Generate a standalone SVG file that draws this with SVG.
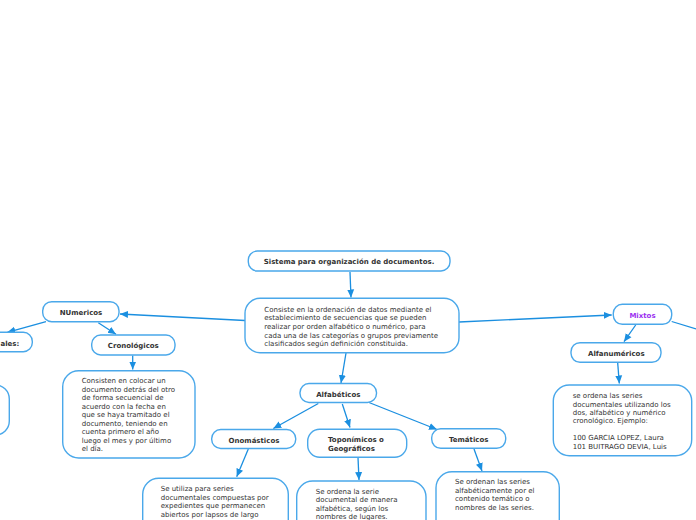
<svg xmlns="http://www.w3.org/2000/svg" width="696" height="520" viewBox="0 0 696 520">
<style>
.n{fill:#fff;stroke:#4aa8ea;stroke-width:1.4}
.t{font-family:"DejaVu Sans",Verdana,sans-serif;font-size:7px;fill:#333}
.b{font-weight:bold;text-anchor:middle}
.c{fill:none;stroke:#1b8fe0;stroke-width:1.3}
</style>
<defs>
<marker id="a" markerUnits="userSpaceOnUse" markerWidth="9" markerHeight="8" refX="8" refY="4" orient="auto">
<path d="M0,0.5 L8,4 L0,7.5 z" fill="#1b8fe0"/>
</marker>
</defs>
<rect width="696" height="520" fill="#fff"/>
<g id="connectors">
<line class="c" x1="350" y1="272" x2="351" y2="297.5" marker-end="url(#a)"/>
<line class="c" x1="245" y1="320.5" x2="120" y2="314" marker-end="url(#a)"/>
<line class="c" x1="46" y1="321.7" x2="7.3" y2="332.3" marker-end="url(#a)"/>
<line class="c" x1="98.3" y1="322.7" x2="116" y2="334.3" marker-end="url(#a)"/>
<line class="c" x1="132.7" y1="355.5" x2="132.7" y2="369.5" marker-end="url(#a)"/>
<line class="c" x1="346" y1="353" x2="341" y2="383" marker-end="url(#a)"/>
<line class="c" x1="318.3" y1="403.5" x2="273.3" y2="428.5" marker-end="url(#a)"/>
<line class="c" x1="342.3" y1="404" x2="350" y2="427.5" marker-end="url(#a)"/>
<line class="c" x1="369" y1="402.5" x2="437" y2="429.5" marker-end="url(#a)"/>
<line class="c" x1="248.3" y1="449" x2="236.7" y2="476.7" marker-end="url(#a)"/>
<line class="c" x1="358" y1="457.5" x2="359" y2="480" marker-end="url(#a)"/>
<line class="c" x1="474" y1="449" x2="482" y2="471" marker-end="url(#a)"/>
<line class="c" x1="459" y1="322" x2="611.7" y2="315" marker-end="url(#a)"/>
<line class="c" x1="671.7" y1="321.5" x2="696" y2="329"/>
<line class="c" x1="635.7" y1="325" x2="624" y2="341.7" marker-end="url(#a)"/>
<line class="c" x1="617.7" y1="363" x2="619.3" y2="383.5" marker-end="url(#a)"/>
</g>
<g id="title">
<rect class="n" x="248.3" y="251" width="201.7" height="20" rx="9"/>
<text class="t b" x="349" y="264">Sistema para organización de documentos.</text>
</g>
<g id="definicion">
<rect class="n" x="245" y="298.3" width="214" height="54.4" rx="15"/>
<text class="t" x="264.3" y="311.5">Consiste en la ordenación de datos mediante el</text>
<text class="t" x="264.3" y="320.2">establecimiento de secuencias que se pueden</text>
<text class="t" x="264.3" y="328.9">realizar por orden alfabético o numérico, para</text>
<text class="t" x="264.3" y="337.6">cada una de las categorías o grupos previamente</text>
<text class="t" x="264.3" y="346.3">clasificados según definición constituida.</text>
</g>
<g id="numericos">
<rect class="n" x="42.7" y="301.7" width="76.3" height="20" rx="9"/>
<text class="t b" x="81" y="315.2">NUmericos</text>
</g>
<g id="ales">
<rect class="n" x="-60" y="332.3" width="92.3" height="19.4" rx="9"/>
<text class="t" x="0.5" y="346" font-weight="bold">ales:</text>
</g>
<g id="left-desc">
<rect class="n" x="-100" y="385" width="109.3" height="50" rx="14"/>
</g>
<g id="cronologicos">
<rect class="n" x="91.7" y="335" width="83.3" height="20" rx="9"/>
<text class="t b" x="133.3" y="347.7">Cronológicos</text>
</g>
<g id="cronologicos-desc">
<rect class="n" x="62.7" y="370.7" width="132.3" height="87.3" rx="16"/>
<text class="t" x="81.7" y="383">Consisten en colocar un</text>
<text class="t" x="81.7" y="391.5">documento detrás del otro</text>
<text class="t" x="81.7" y="400">de forma secuencial de</text>
<text class="t" x="81.7" y="408.5">acuerdo con la fecha en</text>
<text class="t" x="81.7" y="417">que se haya tramitado el</text>
<text class="t" x="81.7" y="425.5">documento, teniendo en</text>
<text class="t" x="81.7" y="434">cuenta primero el año</text>
<text class="t" x="81.7" y="442.5">luego el mes y por último</text>
<text class="t" x="81.7" y="451">el día.</text>
</g>
<g id="alfabeticos">
<rect class="n" x="300" y="383.5" width="76.5" height="19" rx="9"/>
<text class="t b" x="338.3" y="396.5">Alfabéticos</text>
</g>
<g id="onomasticos">
<rect class="n" x="211.7" y="429.5" width="84" height="19" rx="9"/>
<text class="t b" x="254" y="442.5">Onomásticos</text>
</g>
<g id="toponimicos">
<rect class="n" x="307.7" y="429.3" width="99" height="28" rx="12"/>
<text class="t" font-weight="bold" x="328" y="441.5">Toponímicos o</text>
<text class="t" font-weight="bold" x="328" y="450.5">Geográficos</text>
</g>
<g id="tematicos">
<rect class="n" x="431.7" y="428.8" width="74" height="19.5" rx="9"/>
<text class="t b" x="468.7" y="441.8">Temáticos</text>
</g>
<g id="onomasticos-desc">
<rect class="n" x="142.7" y="478.3" width="145.6" height="80" rx="16"/>
<text class="t" x="160.7" y="491">Se utiliza para series</text>
<text class="t" x="160.7" y="499.6">documentales compuestas por</text>
<text class="t" x="160.7" y="508.2">expedientes que permanecen</text>
<text class="t" x="160.7" y="516.8">abiertos por lapsos de largo</text>
</g>
<g id="toponimicos-desc">
<rect class="n" x="296.7" y="481" width="129.3" height="80" rx="16"/>
<text class="t" x="315.7" y="493.5">Se ordena la serie</text>
<text class="t" x="315.7" y="502">documental de manera</text>
<text class="t" x="315.7" y="510.5">alfabética, según los</text>
<text class="t" x="315.7" y="519">nombres de lugares.</text>
</g>
<g id="tematicos-desc">
<rect class="n" x="436" y="471.7" width="123.3" height="80" rx="16"/>
<text class="t" x="455" y="484.2">Se ordenan las series</text>
<text class="t" x="455" y="492.7">alfabéticamente por el</text>
<text class="t" x="455" y="501.2">contenido temático o</text>
<text class="t" x="455" y="509.7">nombres de las series.</text>
</g>
<g id="mixtos">
<rect class="n" x="613.3" y="304.3" width="58.4" height="20" rx="9"/>
<text class="t b" x="642.5" y="317.7" style="fill:#9b30f0">Mixtos</text>
</g>
<g id="alfanumericos">
<rect class="n" x="571" y="342.7" width="90" height="19.6" rx="9"/>
<text class="t b" x="616.3" y="355.8">Alfanuméricos</text>
</g>
<g id="alfanumericos-desc">
<rect class="n" x="553.3" y="385" width="138.4" height="70.7" rx="16"/>
<text class="t" x="572.7" y="398.2">se ordena las series</text>
<text class="t" x="572.7" y="406.6">documentales utilizando los</text>
<text class="t" x="572.7" y="415">dos, alfabético y numérico</text>
<text class="t" x="572.7" y="423.4">cronológico. Ejemplo:</text>
<text class="t" x="572.7" y="440.2">100 GARCIA LOPEZ, Laura</text>
<text class="t" x="572.7" y="448.6">101 BUITRAGO DEVIA, Luis</text>
</g>
</svg>
